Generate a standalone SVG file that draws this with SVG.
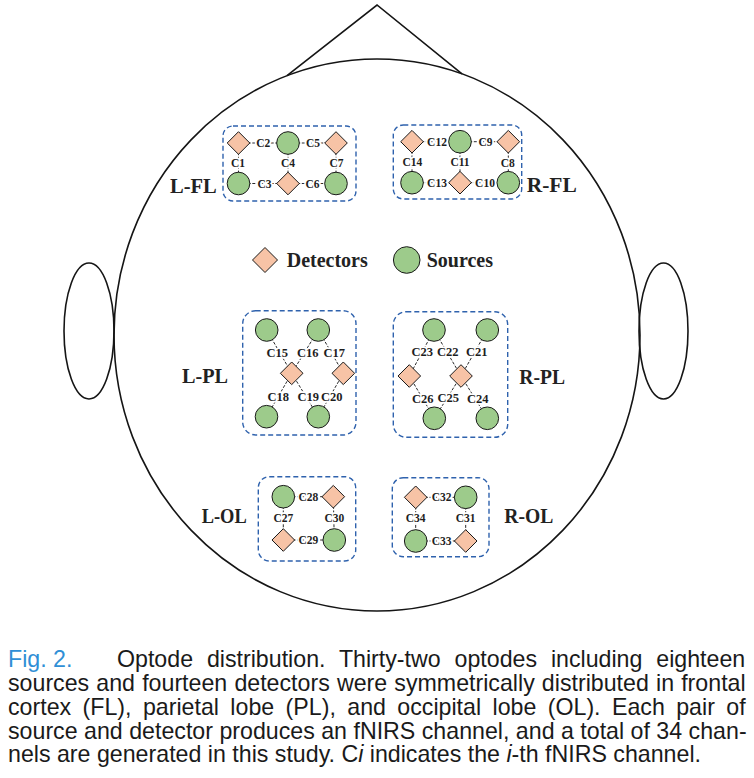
<svg xmlns="http://www.w3.org/2000/svg" width="754" height="778" viewBox="0 0 754 778">
  <style>
    .outline { fill: none; stroke: #151515; stroke-width: 1.6; }
    .region { fill: none; stroke: #2f62ad; stroke-width: 1.4; stroke-dasharray: 5 3; }
    .src { fill: #9dcb8b; stroke: #1a1a1a; stroke-width: 1; }
    .det { fill: #f7c3a6; stroke: #1a1a1a; stroke-width: 1; }
    .link { stroke: #2a2a2a; stroke-width: 1; stroke-dasharray: 3 1.6; }
    .ch { font-family: "Liberation Serif", "Times New Roman", serif; font-weight: bold; font-size: 11.5px; fill: #1e1e1e; text-anchor: middle; stroke: #ffffff; stroke-width: 3.6; paint-order: stroke; stroke-linejoin: round; }
    .chp { font-size: 12.5px; }
    .area { font-family: "Liberation Serif", "Times New Roman", serif; font-weight: bold; font-size: 21px; fill: #222222; }
    .legend { font-family: "Liberation Serif", "Times New Roman", serif; font-weight: bold; font-size: 20px; fill: #222222; }
    .cap { font-family: "Liberation Sans", Arial, sans-serif; font-size: 23.2px; fill: #1a1a1a; }
    .fig { fill: #2f8fd6; }
  </style>
  <defs>
    <circle id="s" r="11.3" class="src"/>
    <polygon id="d" points="0,-11.3 11.3,0 0,11.3 -11.3,0" class="det"/>
  </defs>

  <rect width="754" height="778" fill="#ffffff"/>

  <!-- head outline, nose and ears -->
  <g id="head">
    <polyline class="outline" points="287,75.6 377,5 462,73.8"/>
    <ellipse class="outline" cx="377" cy="335" rx="263" ry="276"/>
    <ellipse class="outline" cx="89" cy="331" rx="25" ry="68"/>
    <ellipse class="outline" cx="663.5" cy="331" rx="24.5" ry="68"/>
  </g>

  <!-- dashed region frames -->
  <g id="regions">
    <rect class="region" x="223" y="126" width="133" height="75" rx="10"/>
    <rect class="region" x="393.3" y="125" width="128.4" height="74" rx="10"/>
    <rect class="region" x="242.7" y="310.7" width="113.3" height="124.3" rx="13"/>
    <rect class="region" x="393.3" y="311.7" width="114.4" height="125.6" rx="13"/>
    <rect class="region" x="258.3" y="476.7" width="97.4" height="84.3" rx="11"/>
    <rect class="region" x="392.3" y="477.7" width="96.7" height="79" rx="11"/>
  </g>

  <!-- channels: source-detector links with channel numbers -->
  <g id="connectors">
    <!-- L-FL -->
    <line class="link" x1="238.5" y1="143" x2="288" y2="143"/>
    <line class="link" x1="288" y1="143" x2="336" y2="143"/>
    <line class="link" x1="238.5" y1="143" x2="238.5" y2="183.5"/>
    <line class="link" x1="288" y1="143" x2="288" y2="183.5"/>
    <line class="link" x1="336" y1="143" x2="336" y2="183.5"/>
    <line class="link" x1="238.5" y1="183.5" x2="288" y2="183.5"/>
    <line class="link" x1="288" y1="183.5" x2="336" y2="183.5"/>
    <!-- R-FL -->
    <line class="link" x1="412" y1="141.7" x2="460" y2="141.7"/>
    <line class="link" x1="460" y1="141.7" x2="508.3" y2="141.7"/>
    <line class="link" x1="412" y1="141.7" x2="412" y2="182.7"/>
    <line class="link" x1="460" y1="141.7" x2="460" y2="182.7"/>
    <line class="link" x1="508.3" y1="141.7" x2="508.3" y2="182.7"/>
    <line class="link" x1="412" y1="182.7" x2="460" y2="182.7"/>
    <line class="link" x1="460" y1="182.7" x2="508.3" y2="182.7"/>
    <!-- L-PL -->
    <line class="link" x1="266.7" y1="330" x2="291.7" y2="373.3"/>
    <line class="link" x1="318.3" y1="330" x2="291.7" y2="373.3"/>
    <line class="link" x1="318.3" y1="330" x2="343.3" y2="373.3"/>
    <line class="link" x1="291.7" y1="373.3" x2="266.5" y2="416.7"/>
    <line class="link" x1="291.7" y1="373.3" x2="318.3" y2="416.7"/>
    <line class="link" x1="343.3" y1="373.3" x2="318.3" y2="416.7"/>
    <!-- R-PL -->
    <line class="link" x1="434" y1="330" x2="409.3" y2="376"/>
    <line class="link" x1="434" y1="330" x2="461" y2="376"/>
    <line class="link" x1="487.3" y1="330" x2="461" y2="376"/>
    <line class="link" x1="409.3" y1="376" x2="434.3" y2="418.3"/>
    <line class="link" x1="461" y1="376" x2="434.3" y2="418.3"/>
    <line class="link" x1="461" y1="376" x2="487.3" y2="418.3"/>
    <!-- L-OL -->
    <line class="link" x1="283.3" y1="496.7" x2="333.3" y2="496.7"/>
    <line class="link" x1="283.3" y1="496.7" x2="283.3" y2="540"/>
    <line class="link" x1="333.3" y1="496.7" x2="334.3" y2="540"/>
    <line class="link" x1="283.3" y1="540" x2="334.3" y2="540"/>
    <!-- R-OL -->
    <line class="link" x1="415.7" y1="497.3" x2="465.7" y2="497.3"/>
    <line class="link" x1="415.7" y1="497.3" x2="415.7" y2="541"/>
    <line class="link" x1="465.7" y1="497.3" x2="465.7" y2="541"/>
    <line class="link" x1="415.7" y1="541" x2="465.7" y2="541"/>

    <!-- channel labels -->
    <text class="ch" x="263.3" y="147">C2</text>
    <text class="ch" x="313" y="147">C5</text>
    <text class="ch" x="238" y="167.3">C1</text>
    <text class="ch" x="288" y="167.3">C4</text>
    <text class="ch" x="336.5" y="167.3">C7</text>
    <text class="ch" x="264.5" y="187.5">C3</text>
    <text class="ch" x="312.5" y="187.5">C6</text>

    <text class="ch" x="437" y="145.7">C12</text>
    <text class="ch" x="485.5" y="145.7">C9</text>
    <text class="ch" x="412.3" y="166.3">C14</text>
    <text class="ch" x="460" y="166.3">C11</text>
    <text class="ch" x="507.7" y="167.3">C8</text>
    <text class="ch" x="437" y="186.7">C13</text>
    <text class="ch" x="485" y="186.7">C10</text>

    <text class="ch chp" x="277.3" y="356.6">C15</text>
    <text class="ch chp" x="307.7" y="356.6">C16</text>
    <text class="ch chp" x="334.3" y="356.6">C17</text>
    <text class="ch chp" x="278.3" y="401">C18</text>
    <text class="ch chp" x="308.3" y="401">C19</text>
    <text class="ch chp" x="331.7" y="401">C20</text>

    <text class="ch chp" x="422.3" y="356">C23</text>
    <text class="ch chp" x="447.7" y="356">C22</text>
    <text class="ch chp" x="476.7" y="356">C21</text>
    <text class="ch chp" x="422.7" y="403.3">C26</text>
    <text class="ch chp" x="448.3" y="402.3">C25</text>
    <text class="ch chp" x="477.7" y="403.3">C24</text>

    <text class="ch" x="308.3" y="500.7">C28</text>
    <text class="ch" x="283.3" y="521.7">C27</text>
    <text class="ch" x="334.3" y="521.7">C30</text>
    <text class="ch" x="308.3" y="544">C29</text>

    <text class="ch" x="441.7" y="501.3">C32</text>
    <text class="ch" x="415.7" y="521.7">C34</text>
    <text class="ch" x="465.7" y="521.7">C31</text>
    <text class="ch" x="441.7" y="545">C33</text>
  </g>

  <!-- optodes: frontal -->
  <g id="L-FL">
    <use href="#d" x="238.5" y="143"/>
    <use href="#s" x="288" y="143"/>
    <use href="#d" x="336" y="143"/>
    <use href="#s" x="238.5" y="183.5"/>
    <use href="#d" x="288" y="183.5"/>
    <use href="#s" x="336" y="183.5"/>
    <text class="area" x="170" y="192.7" textLength="46.7" lengthAdjust="spacingAndGlyphs">L-FL</text>
  </g>
  <g id="R-FL">
    <use href="#d" x="412" y="141.7"/>
    <use href="#s" x="460" y="141.7"/>
    <use href="#d" x="508.3" y="141.7"/>
    <use href="#s" x="412" y="182.7"/>
    <use href="#d" x="460" y="182.7"/>
    <use href="#s" x="508.3" y="182.7"/>
    <text class="area" x="526.7" y="191.7" textLength="50" lengthAdjust="spacingAndGlyphs">R-FL</text>
  </g>

  <!-- legend -->
  <g id="legend">
    <polygon class="det" points="265,247.5 277.5,260 265,272.5 252.5,260"/>
    <text class="legend" x="286.7" y="266.7">Detectors</text>
    <circle class="src" cx="406.7" cy="260" r="13.3"/>
    <text class="legend" x="426.7" y="266.7">Sources</text>
  </g>

  <!-- optodes: parietal -->
  <g id="L-PL">
    <use href="#s" x="266.7" y="330"/>
    <use href="#s" x="318.3" y="330"/>
    <use href="#d" x="291.7" y="373.3"/>
    <use href="#d" x="343.3" y="373.3"/>
    <use href="#s" x="266.5" y="416.7"/>
    <use href="#s" x="318.3" y="416.7"/>
    <text class="area" x="182" y="383.3" textLength="46" lengthAdjust="spacingAndGlyphs">L-PL</text>
  </g>
  <g id="R-PL">
    <use href="#s" x="434" y="330"/>
    <use href="#s" x="487.3" y="330"/>
    <use href="#d" x="409.3" y="376"/>
    <use href="#d" x="461" y="376"/>
    <use href="#s" x="434.3" y="418.3"/>
    <use href="#s" x="487.3" y="418.3"/>
    <text class="area" x="519.3" y="384" textLength="45.7" lengthAdjust="spacingAndGlyphs">R-PL</text>
  </g>

  <!-- optodes: occipital -->
  <g id="L-OL">
    <use href="#s" x="283.3" y="496.7"/>
    <use href="#d" x="333.3" y="496.7"/>
    <use href="#d" x="283.3" y="540"/>
    <use href="#s" x="334.3" y="540"/>
    <text class="area" x="201.7" y="523.3" textLength="45" lengthAdjust="spacingAndGlyphs">L-OL</text>
  </g>
  <g id="R-OL">
    <use href="#d" x="415.7" y="497.3"/>
    <use href="#s" x="465.7" y="497.3"/>
    <use href="#s" x="415.7" y="541"/>
    <use href="#d" x="465.7" y="541"/>
    <text class="area" x="504.3" y="523.3" textLength="49" lengthAdjust="spacingAndGlyphs">R-OL</text>
  </g>

  <!-- figure caption -->
  <g id="caption" class="cap">
    <text class="fig" x="8" y="667">Fig. 2.</text>
    <text x="117" y="667" style="word-spacing:7.4px">Optode distribution. Thirty-two optodes including eighteen</text>
    <text x="8" y="691" style="word-spacing:0.7px">sources and fourteen detectors were symmetrically distributed in frontal</text>
    <text x="8" y="715" style="word-spacing:4.96px">cortex (FL), parietal lobe (PL), and occipital lobe (OL). Each pair of</text>
    <text x="8" y="738.5">source and detector produces an fNIRS channel, and a total of 34 chan-</text>
    <text x="8" y="762">nels are generated in this study. C<tspan font-style="italic">i</tspan> indicates the <tspan font-style="italic">i</tspan>-th fNIRS channel.</text>
  </g>
</svg>
